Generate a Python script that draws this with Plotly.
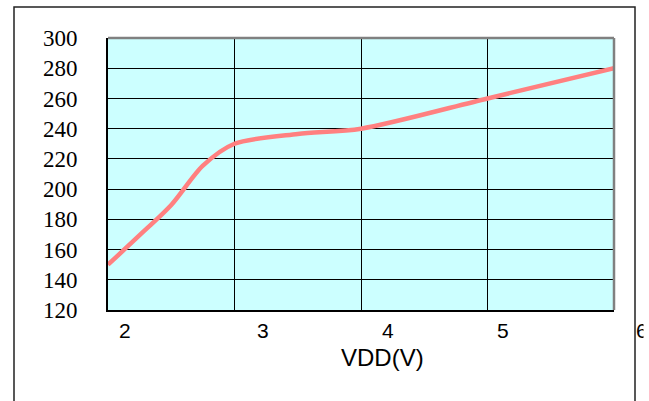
import plotly.graph_objects as go

# Data
vdd = [2.0, 2.25, 2.5, 2.75, 3.0, 3.5, 4.0, 5.0, 6.0]
value = [150, 169.5, 189.5, 215.5, 230, 236.5, 240, 260, 280]

x_tick_vals = [2, 3, 4, 5, 6]
x_tick_text = ["2", "3", "4", "5", "6"]
y_tick_vals = [120, 140, 160, 180, 200, 220, 240, 260, 280, 300]

W, H = 649, 401
L, R, T, B = 108, 614, 38, 310  # plot area in pixels


def px(x):
    return (x - L) / (R - L)


def py(y):
    return (B - y) / (B - T)


fig = go.Figure()
fig.add_trace(go.Scatter(
    x=vdd, y=value, mode="lines",
    line=dict(color="#FF8080", width=4.5, shape="spline", smoothing=0.8),
    showlegend=False, hoverinfo="skip",
))

fig.update_layout(
    width=W, height=H,
    margin=dict(l=L, r=W - R, t=T, b=H - B, pad=0),
    paper_bgcolor="white",
    plot_bgcolor="#CCFFFF",
    xaxis=dict(
        range=[2, 6], tickvals=x_tick_vals, showticklabels=False,
        showgrid=True, gridcolor="black", gridwidth=1,
        showline=True, linecolor="black", linewidth=2,
        zeroline=False, ticks="",
    ),
    yaxis=dict(
        range=[120, 300], tickvals=y_tick_vals,
        showgrid=True, gridcolor="black", gridwidth=1,
        showline=True, linecolor="black", linewidth=2,
        zeroline=False, ticks="inside", ticklen=7, tickcolor="black",
        tickfont=dict(family="Liberation Serif", size=23, color="black"),
        ticklabelstandoff=24,
    ),
)

# top & right gray frame of plot area
fig.add_shape(type="line", xref="paper", yref="paper", x0=0, x1=1, y0=1, y1=1,
              line=dict(color="#808080", width=2.5))
fig.add_shape(type="line", xref="paper", yref="paper", x0=1, x1=1, y0=0, y1=1,
              line=dict(color="#808080", width=2.5))

# outer chart border
fig.add_shape(type="rect", xref="paper", yref="paper",
              x0=px(14), x1=px(635), y0=py(430), y1=py(7),
              line=dict(color="#222222", width=1.5), fillcolor="rgba(0,0,0,0)")

# x tick labels (offset as in the reference)
label_px = [125, 263, 387.5, 502.5, 641.5]
for t, xp in zip(x_tick_text, label_px):
    fig.add_annotation(x=px(xp), y=py(330.5), xref="paper", yref="paper",
                       text=t, showarrow=False, xanchor="center", yanchor="middle",
                       font=dict(family="Liberation Sans", size=21, color="black"))

# white cover clipping the right half of "6"
fig.add_annotation(x=px(642.5), y=py(331), xref="paper", yref="paper",
                   text=" ", showarrow=False, xanchor="left", yanchor="middle",
                   width=10, height=26, bgcolor="white", borderpad=0,
                   font=dict(size=10))

# x axis title
fig.add_annotation(x=px(382.5), y=py(357), xref="paper", yref="paper",
                   text="VDD(V)", showarrow=False, xanchor="center", yanchor="middle",
                   font=dict(family="Liberation Sans", size=24, color="black"))

fig.write_html("out.html", config={"displayModeBar": False},
               post_script="document.body.style.margin='0px';document.body.style.overflow='hidden';")
